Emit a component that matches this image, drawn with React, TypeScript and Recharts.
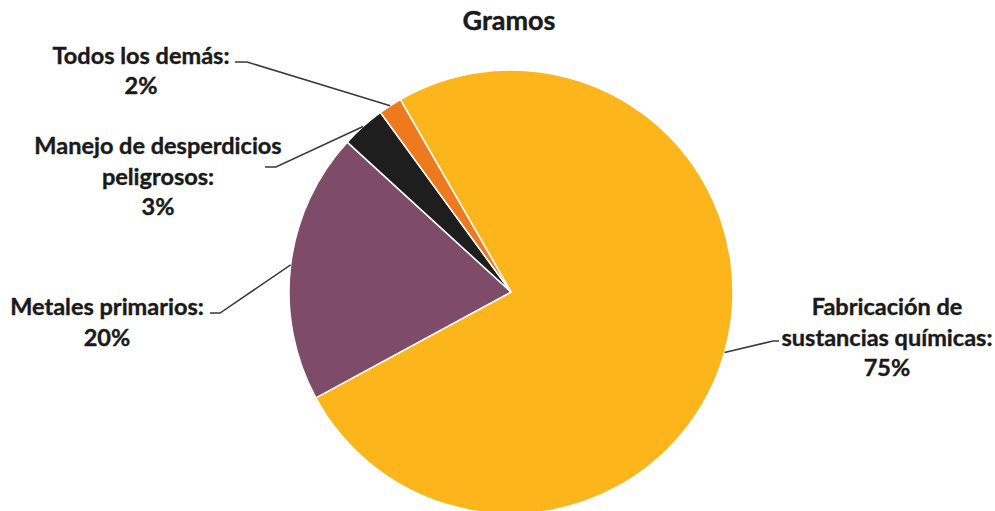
import React from 'react';
import { PieChart, Pie, Cell } from 'recharts';

const categories = [
  'Fabricación de sustancias químicas',
  'Metales primarios',
  'Manejo de desperdicios peligrosos',
  'Todos los demás',
];
const values = [75.4, 19.7, 3.2, 1.7];
const labelLines = [
  ['Fabricación de', 'sustancias químicas:'],
  ['Metales primarios:'],
  ['Manejo de desperdicios', 'peligrosos:'],
  ['Todos los demás:'],
];
const colors = ['#FCB51B', '#7E4B69', '#1E1E1E', '#ED7A1F'];

// label placement relative to pie centre (style/layout only)
const labelLayout = [
  { ex: 262, ey: 49, endX: 268, tx: 376, ys: [14, 45, 75] },
  { ex: -291, ey: 21, endX: -301, tx: -404, ys: [14, 45] },
  { ex: -235, ey: -125, endX: -246, tx: -353, ys: [-147, -116, -86] },
  { ex: -264, ey: -230, endX: -276, tx: -370, ys: [-237, -207] },
];

const total = values.reduce((a, b) => a + b, 0);
const data = categories.map((name, i) => ({ name, value: values[i] }));

const FONT = 'Lato, "Open Sans", sans-serif';

const renderLabel = (props: any) => {
  const { cx, cy, midAngle, outerRadius, index } = props;
  const RAD = Math.PI / 180;
  const sx = cx + outerRadius * Math.cos(-midAngle * RAD);
  const sy = cy + outerRadius * Math.sin(-midAngle * RAD);
  const L = labelLayout[index];
  const ex = cx + L.ex;
  const ey = cy + L.ey;
  const endX = cx + L.endX;
  const pct = Math.round((values[index] / total) * 100) + '%';
  const lines = [...labelLines[index], pct];
  return (
    <g>
      <polyline
        points={`${sx},${sy} ${ex},${ey} ${endX},${ey}`}
        fill="none"
        stroke="#3A3A3A"
        strokeWidth={1.5}
      />
      {lines.map((t, j) => (
        <text
          key={j}
          x={cx + L.tx}
          y={cy + L.ys[j]}
          textAnchor="middle"
          dominantBaseline="central"
          fontFamily={FONT}
          fontWeight={700}
          fontSize={23.5}
          fill="#1A1A1A"
          stroke="#1A1A1A"
          strokeWidth={0.4}
        >
          {t}
        </text>
      ))}
    </g>
  );
};

export default function App() {
  return (
    <div style={{ position: 'absolute', left: 0, top: 0, width: 995, height: 511, background: '#fff', overflow: 'hidden' }}>
      <div
        style={{
          position: 'absolute',
          left: 0,
          top: 3,
          width: 1018,
          textAlign: 'center',
          fontFamily: FONT,
          fontWeight: 700,
          fontSize: 27,
          color: '#1A1A1A',
          WebkitTextStroke: '0.4px #1A1A1A',
        }}
      >
        Gramos
      </div>
      <PieChart width={995} height={511} style={{ position: 'absolute', left: 0, top: 0 }}>
        <Pie
          data={data}
          dataKey="value"
          nameKey="name"
          cx={506}
          cy={287}
          outerRadius={222}
          startAngle={119.9}
          endAngle={-240.1}
          stroke="#FFFFFF"
          strokeWidth={1.5}
          label={renderLabel}
          labelLine={false}
          isAnimationActive={false}
        >
          {data.map((d, i) => (
            <Cell key={d.name} fill={colors[i]} />
          ))}
        </Pie>
      </PieChart>
    </div>
  );
}
